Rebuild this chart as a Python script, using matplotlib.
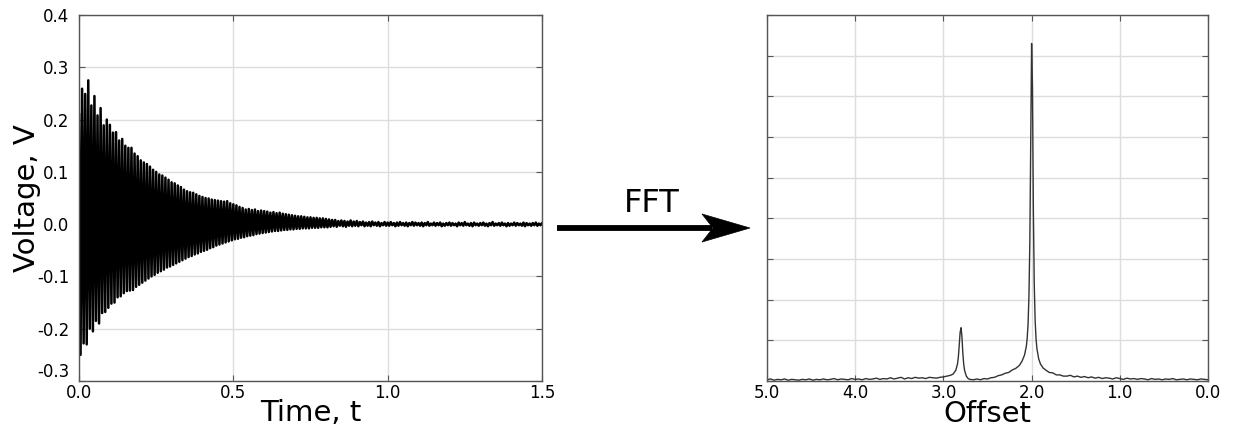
import numpy as np
import matplotlib.pyplot as plt
from matplotlib.patches import Polygon

plt.rcParams['axes.unicode_minus'] = False

# 左图: 自由感应衰减信号 (每 0.01 s 一个上峰, 每个上峰后 0.005 s 一个下谷)
fid_upper = [
    0.21, 0.259, 0.249, 0.275, 0.227, 0.245, 0.208, 0.222, 0.189, 0.20,
    0.19, 0.175, 0.176, 0.16, 0.163, 0.15, 0.146, 0.146, 0.135, 0.13,
    0.122, 0.118, 0.115, 0.11, 0.104, 0.10, 0.095, 0.093, 0.089, 0.085,
    0.08, 0.078, 0.074, 0.071, 0.066, 0.063, 0.061, 0.06, 0.057, 0.054,
    0.052, 0.05, 0.049, 0.047, 0.046, 0.045, 0.044, 0.043, 0.044, 0.04,
    0.038, 0.036, 0.033, 0.031, 0.028, 0.029, 0.027, 0.028, 0.025, 0.026,
    0.025, 0.024, 0.022, 0.023, 0.021, 0.022, 0.02, 0.019, 0.018, 0.017,
    0.016, 0.015, 0.015, 0.014, 0.013, 0.013, 0.012, 0.012, 0.011, 0.011,
    0.01, 0.009, 0.008, 0.008, 0.006, 0.007, 0.006, 0.005, 0.007, 0.005,
    0.006, 0.004, 0.005, 0.003, 0.004, 0.005, 0.003, 0.004, 0.002, 0.004,
    0.003, 0.004, 0.002, 0.003, 0.004, 0.002, 0.003, 0.002, 0.004, 0.003,
    0.002, 0.003, 0.002, 0.004, 0.001, 0.003, 0.002, 0.003, 0.001, 0.002,
    0.003, 0.002, 0.001, 0.003, 0.002, 0.004, 0.001, 0.002, 0.003, 0.001,
    0.002, 0.003, 0.001, 0.002, 0.004, 0.001, 0.002, 0.003, 0.001, 0.002,
    0.001, 0.003, 0.002, 0.001, 0.003, 0.002, 0.001, 0.002, 0.003, 0.001,
    0.002,
]
fid_lower = [
    -0.25, -0.228, -0.23, -0.2, -0.205, -0.185, -0.19, -0.17, -0.168, -0.16,
    -0.152, -0.15, -0.14, -0.138, -0.132, -0.128, -0.127, -0.126, -0.12, -0.116,
    -0.112, -0.108, -0.104, -0.1, -0.097, -0.093, -0.09, -0.087, -0.083, -0.081,
    -0.078, -0.075, -0.072, -0.069, -0.066, -0.063, -0.061, -0.058, -0.056, -0.053,
    -0.051, -0.049, -0.046, -0.044, -0.041, -0.039, -0.037, -0.035, -0.033, -0.031,
    -0.029, -0.028, -0.026, -0.025, -0.023, -0.022, -0.021, -0.019, -0.018, -0.017,
    -0.016, -0.015, -0.014, -0.013, -0.013, -0.012, -0.011, -0.011, -0.01, -0.01,
    -0.009, -0.009, -0.008, -0.008, -0.008, -0.007, -0.007, -0.007, -0.006, -0.006,
    -0.006, -0.005, -0.004, -0.005, -0.003, -0.004, -0.005, -0.003, -0.004, -0.003,
    -0.004, -0.002, -0.004, -0.003, -0.004, -0.002, -0.003, -0.004, -0.002, -0.003,
    -0.003, -0.002, -0.004, -0.003, -0.002, -0.003, -0.004, -0.002, -0.003, -0.002,
    -0.003, -0.004, -0.002, -0.003, -0.002, -0.003, -0.002, -0.004, -0.003, -0.002,
    -0.003, -0.002, -0.004, -0.002, -0.003, -0.002, -0.003, -0.004, -0.002, -0.003,
    -0.002, -0.003, -0.004, -0.002, -0.003, -0.002, -0.003, -0.002, -0.004, -0.003,
    -0.002, -0.003, -0.002, -0.003, -0.004, -0.002, -0.003, -0.002, -0.003, -0.002,
    -0.003,
]
fid_step = 0.01

# 右图: 频谱 (横坐标 offset, 纵坐标为任意单位)
base_left_off = [5.00, 4.96, 4.92, 4.88, 4.84, 4.80, 4.76, 4.72, 4.68, 4.64,
                 4.60, 4.56, 4.52, 4.48, 4.44, 4.40, 4.36, 4.32, 4.28, 4.24,
                 4.20, 4.16, 4.12, 4.08, 4.04, 4.00, 3.96, 3.92, 3.88, 3.84,
                 3.80, 3.76, 3.72, 3.68, 3.64, 3.60, 3.56, 3.52, 3.48, 3.44,
                 3.40, 3.36, 3.32, 3.28, 3.24, 3.20, 3.16, 3.12, 3.08, 3.04]
base_left_val = [0.03, 0.05, 0.02, 0.04, 0.03, 0.05, 0.02, 0.04, 0.03, 0.02,
                 0.04, 0.03, 0.05, 0.02, 0.04, 0.03, 0.05, 0.03, 0.04, 0.06,
                 0.03, 0.05, 0.04, 0.03, 0.06, 0.04, 0.05, 0.03, 0.06, 0.04,
                 0.05, 0.07, 0.04, 0.06, 0.05, 0.08, 0.05, 0.07, 0.09, 0.05,
                 0.08, 0.06, 0.09, 0.07, 0.08, 0.06, 0.09, 0.08, 0.07, 0.09]
peak_off = [3.00, 2.96, 2.92, 2.89, 2.86, 2.84, 2.83, 2.82, 2.81, 2.80,
            2.79, 2.78, 2.77, 2.76, 2.74, 2.72, 2.70, 2.66, 2.62, 2.58,
            2.54, 2.50, 2.46, 2.42, 2.38, 2.34, 2.30, 2.26, 2.22, 2.18,
            2.14, 2.11, 2.08, 2.06, 2.05, 2.04, 2.03, 2.02, 2.01, 2.00,
            1.99, 1.98, 1.97, 1.96, 1.95, 1.94, 1.92, 1.90, 1.87, 1.84,
            1.80, 1.76, 1.72, 1.68, 1.64]
peak_val = [0.10, 0.12, 0.14, 0.17, 0.26, 0.42, 0.60, 0.92, 1.20, 1.31,
            1.10, 0.70, 0.42, 0.26, 0.12, 0.06, 0.04, 0.03, 0.05, 0.03,
            0.06, 0.05, 0.08, 0.09, 0.13, 0.15, 0.19, 0.21, 0.27, 0.31,
            0.38, 0.48, 0.64, 0.85, 1.05, 1.40, 2.10, 3.40, 5.80, 8.30,
            7.20, 4.20, 2.40, 1.50, 1.05, 0.80, 0.55, 0.42, 0.32, 0.27,
            0.21, 0.20, 0.15, 0.15, 0.12]
base_right_off = [1.60, 1.56, 1.52, 1.48, 1.44, 1.40, 1.36, 1.32, 1.28, 1.24,
                  1.20, 1.16, 1.12, 1.08, 1.04, 1.00, 0.96, 0.92, 0.88, 0.84,
                  0.80, 0.76, 0.72, 0.68, 0.64, 0.60, 0.56, 0.52, 0.48, 0.44,
                  0.40, 0.36, 0.32, 0.28, 0.24, 0.20, 0.16, 0.12, 0.08, 0.04, 0.00]
base_right_val = [0.12, 0.14, 0.10, 0.12, 0.09, 0.11, 0.08, 0.10, 0.07, 0.09,
                  0.06, 0.08, 0.07, 0.05, 0.08, 0.06, 0.04, 0.07, 0.05, 0.06,
                  0.04, 0.06, 0.05, 0.03, 0.06, 0.04, 0.05, 0.03, 0.05, 0.04,
                  0.06, 0.03, 0.04, 0.05, 0.03, 0.05, 0.04, 0.03, 0.05, 0.04, 0.03]

time_ticks = [0.0, 0.5, 1.0, 1.5]
volt_ticks = [-0.3, -0.2, -0.1, 0.0, 0.1, 0.2, 0.3, 0.4]
offset_ticks = [5.0, 4.0, 3.0, 2.0, 1.0, 0.0]

# 把上峰和下谷交替连成一条折线
t_up = np.arange(len(fid_upper)) * fid_step
t_lo = t_up + fid_step / 2
fid_t = np.column_stack([t_up, t_lo]).ravel()
fid_v = np.column_stack([fid_upper, fid_lower]).ravel()

spec_off = base_left_off + peak_off + base_right_off
spec_val = base_left_val + peak_val + base_right_val

W, H = 1234, 428
fig = plt.figure(figsize=(W / 100, H / 100), dpi=100)
ax1 = fig.add_axes([79 / W, 47 / H, 463 / W, 366 / H])
ax2 = fig.add_axes([767 / W, 47 / H, 441 / W, 366 / H])


def style(ax):
    for s in ax.spines.values():
        s.set_color('#555555')
        s.set_linewidth(1.0)
    ax.tick_params(direction='in', length=4, color='#555555', labelsize=12,
                   top=True, right=True)
    ax.tick_params(axis='x', pad=2)
    ax.tick_params(axis='y', pad=7)
    ax.grid(True, color='#dddddd', linewidth=1.0)
    ax.set_axisbelow(True)


ax1.plot(fid_t, fid_v, color='black', linewidth=1.8)
ax1.set_xlim(0, 1.5)
ax1.set_ylim(-0.3, 0.4)
ax1.set_xticks(time_ticks)
ax1.set_xticklabels(['%.1f' % v for v in time_ticks])
ax1.set_yticks(volt_ticks)
ax1.set_yticklabels(['%.1f' % v for v in volt_ticks])
ax1.get_yticklabels()[0].set_va('bottom')
ax1.set_xlabel('Time, t', fontsize=21, labelpad=-2)
ax1.set_ylabel('Voltage, V', fontsize=21, labelpad=-3)
style(ax1)

ax2.plot(spec_off, spec_val, color='#333333', linewidth=1.0)
ax2.set_xlim(5.0, 0.0)
ax2.set_ylim(0, 9)
ax2.set_xticks(offset_ticks)
ax2.set_xticklabels(['%.1f' % v for v in offset_ticks])
ax2.set_yticks(range(10))
ax2.set_yticklabels([])
ax2.set_xlabel('Offset', fontsize=21, labelpad=-1)
style(ax2)

# 中间的 FFT 箭头 (像素位置换算成 figure 坐标)
fig.text(652 / W, 1 - 203 / H, 'FFT', fontsize=23, ha='center', va='center')
fig.add_artist(plt.Line2D([557 / W, 712 / W], [1 - 228 / H] * 2,
                          color='black', linewidth=4.2,
                          transform=fig.transFigure, solid_capstyle='butt'))
head = [(750, 228), (702, 214), (713, 228), (702, 242)]
fig.add_artist(Polygon([(x / W, 1 - y / H) for x, y in head], closed=True,
                       facecolor='black', edgecolor='black', linewidth=0.5,
                       transform=fig.transFigure))

fig.savefig('out.png', dpi=100)
